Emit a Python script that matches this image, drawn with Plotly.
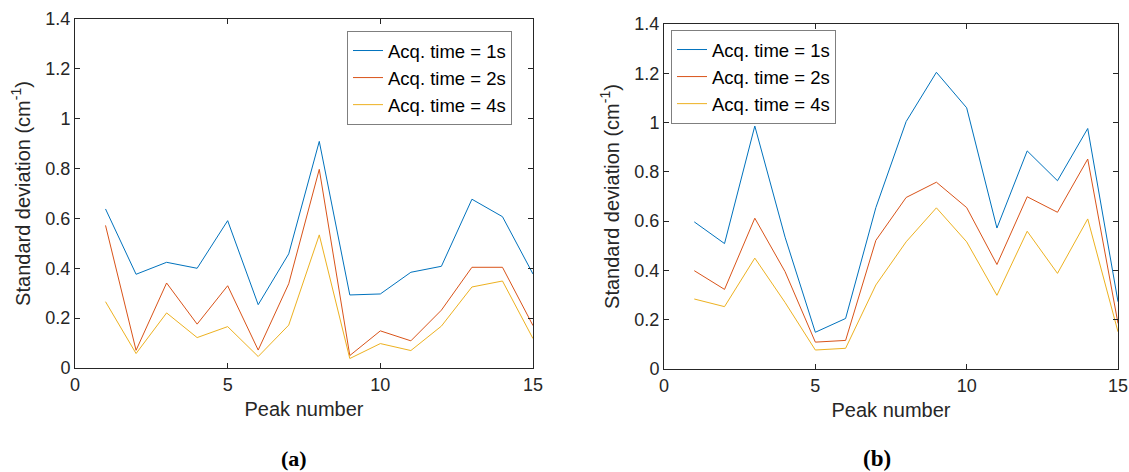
import plotly.graph_objects as go

peaks = list(range(1, 16))
names = ["Acq. time = 1s", "Acq. time = 2s", "Acq. time = 4s"]
colors = ["#0072BD", "#D95319", "#EDB120"]

# Panel (a)
a_1s = [0.638, 0.376, 0.424, 0.400, 0.591, 0.254, 0.458, 0.909, 0.293, 0.297, 0.384, 0.408, 0.677, 0.607, 0.377]
a_2s = [0.572, 0.071, 0.341, 0.176, 0.330, 0.072, 0.338, 0.797, 0.050, 0.149, 0.109, 0.232, 0.404, 0.404, 0.170]
a_4s = [0.266, 0.058, 0.221, 0.122, 0.166, 0.046, 0.172, 0.534, 0.038, 0.098, 0.070, 0.168, 0.325, 0.349, 0.118]

# Panel (b)
b_1s = [0.597, 0.509, 0.986, 0.535, 0.149, 0.205, 0.655, 1.004, 1.204, 1.060, 0.572, 0.885, 0.764, 0.976, 0.273]
b_2s = [0.399, 0.323, 0.612, 0.395, 0.109, 0.116, 0.522, 0.696, 0.758, 0.655, 0.424, 0.699, 0.636, 0.852, 0.185]
b_4s = [0.284, 0.253, 0.450, 0.270, 0.077, 0.084, 0.341, 0.516, 0.654, 0.516, 0.299, 0.559, 0.388, 0.609, 0.151]

x_ticks = [0, 5, 10, 15]
y_ticks = [0, 0.2, 0.4, 0.6, 0.8, 1.0, 1.2, 1.4]
y_ticktext = ["0", "0.2", "0.4", "0.6", "0.8", "1", "1.2", "1.4"]

W, H = 1129, 472
FONT = "Liberation Sans, Arial, sans-serif"
SERIF = "Liberation Serif, Times New Roman, serif"
TXT = "#262626"

fig = go.Figure()
for ser, c, n in zip([a_1s, a_2s, a_4s], colors, names):
    fig.add_trace(go.Scatter(x=peaks, y=ser, mode="lines", name=n,
                             line=dict(color=c, width=1),
                             xaxis="x", yaxis="y", legend="legend"))
for ser, c, n in zip([b_1s, b_2s, b_4s], colors, names):
    fig.add_trace(go.Scatter(x=peaks, y=ser, mode="lines", name=n,
                             line=dict(color=c, width=1),
                             xaxis="x2", yaxis="y2", legend="legend2"))


def xax(domain, anchor):
    return dict(domain=domain, anchor=anchor, range=[0, 15], tickvals=x_ticks,
                ticks="inside", ticklen=5, tickcolor=TXT, tickwidth=1,
                showline=True, linecolor=TXT, linewidth=1, mirror="ticks",
                showgrid=False, zeroline=False, automargin=False,
                tickfont=dict(family=FONT, size=18, color=TXT),
                title=dict(text="Peak number", standoff=8,
                           font=dict(family=FONT, size=20, color=TXT)))


def yax(domain, anchor):
    return dict(domain=domain, anchor=anchor, range=[0, 1.4], tickvals=y_ticks,
                ticktext=y_ticktext,
                ticks="inside", ticklen=5, tickcolor=TXT, tickwidth=1,
                showline=True, linecolor=TXT, linewidth=1, mirror="ticks",
                showgrid=False, zeroline=False, automargin=False,
                tickfont=dict(family=FONT, size=18, color=TXT),
                title=dict(text="Standard deviation (cm<sup>-1</sup>)", standoff=9,
                           font=dict(family=FONT, size=20, color=TXT)))


legend_style = dict(bgcolor="white", bordercolor="#7f7f7f", borderwidth=1,
                    font=dict(family=FONT, size=18.5, color="black"),
                    xanchor="left", yanchor="top", itemwidth=30,
                    tracegroupgap=0)

fig.update_layout(
    width=W, height=H, autosize=False,
    margin=dict(l=0, r=0, t=0, b=0, pad=0),
    paper_bgcolor="white", plot_bgcolor="white",
    showlegend=True,
    xaxis=xax([75 / W, 533 / W], "y"),
    yaxis=yax([1 - 368 / H, 1 - 19 / H], "x"),
    xaxis2=xax([664 / W, 1118 / W], "y2"),
    yaxis2=yax([1 - 369 / H, 1 - 24 / H], "x2"),
    legend=dict(x=347 / W, y=1 - 31 / H, **legend_style),
    legend2=dict(x=671 / W, y=1 - 30 / H, **legend_style),
    annotations=[
        dict(text="<b>(a)</b>", x=294 / W, y=1 - 458 / H, xref="paper", yref="paper",
             xanchor="center", yanchor="middle",
             showarrow=False, font=dict(family=SERIF, size=22, color="black")),
        dict(text="<b>(b)</b>", x=877 / W, y=1 - 458 / H, xref="paper", yref="paper",
             xanchor="center", yanchor="middle",
             showarrow=False, font=dict(family=SERIF, size=23, color="black")),
    ],
)

fig.write_html("out.html", config={"displayModeBar": False},
               post_script="document.body.style.margin='0';document.body.style.overflow='hidden';")
